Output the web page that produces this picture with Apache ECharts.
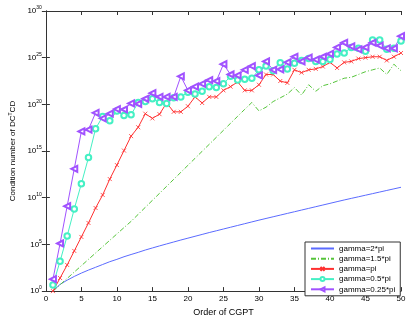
<!DOCTYPE html>
<html>
<head>
<meta charset="utf-8">
<script src="https://cdn.jsdelivr.net/npm/echarts@6/dist/echarts.min.js"></script>
<style>
html, body { margin: 0; padding: 0; background: #fff; }
#main { width: 409px; height: 322px; }
</style>
</head>
<body>
<div id="main"></div>
<script>
var orders = [1, 2, 3, 4, 5, 6, 7, 8, 9, 10, 11, 12, 13, 14, 15, 16, 17, 18, 19, 20,
    21, 22, 23, 24, 25, 26, 27, 28, 29, 30, 31, 32, 33, 34, 35, 36, 37, 38, 39, 40,
    41, 42, 43, 44, 45, 46, 47, 48, 49, 50];

// exponents (log10 of the condition number)
var gamma2pi = [0, 0.72, 1.17, 1.57, 1.93, 2.25, 2.55, 2.85, 3.15, 3.4,
    3.68, 3.92, 4.15, 4.4, 4.62, 4.84, 5.05, 5.26, 5.47, 5.67,
    5.87, 6.07, 6.27, 6.46, 6.65, 6.84, 7.03, 7.22, 7.41, 7.6,
    7.78, 7.96, 8.14, 8.32, 8.5, 8.68, 8.86, 9.04, 9.22, 9.4,
    9.58, 9.76, 9.93, 10.1, 10.27, 10.44, 10.61, 10.78, 10.95, 11.12];
var gamma15pi = [0, 0.68, 1.36, 2.04, 2.72, 3.4, 4.08, 4.76, 5.44, 6.12,
    6.8, 7.47, 8.22, 8.97, 9.72, 10.47, 11.22, 11.97, 12.72, 13.47,
    14.22, 14.97, 15.72, 16.47, 17.22, 17.97, 18.72, 19.47, 20.2, 19.3,
    19.7, 20.3, 20.7, 21.1, 21.8, 21.0, 22.1, 21.4, 22.0, 22.2,
    22.5, 22.8, 22.9, 23.2, 23.5, 23.7, 23.9, 23.2, 24.3, 23.6];
var gammaPi = [0, 1.4, 2.8, 4.3, 5.8, 7.3, 8.9, 10.3, 12.0, 13.5,
    15.05, 16.6, 17.55, 19.0, 18.5, 18.95, 20.15, 19.2, 19.2, 19.8,
    20.8, 20.15, 20.8, 20.8, 21.5, 21.9, 22.4, 21.5, 21.5, 22.1,
    23.2, 23.2, 22.5, 22.3, 23.7, 23.4, 23.7, 23.8, 24.05, 24.5,
    23.9, 24.5, 24.6, 24.9, 25.0, 25.1, 25.1, 24.7, 25.1, 25.5];
var gamma05pi = [0.66, 3.2, 5.9, 8.8, 11.5, 14.3, 17.4, 18.7, 18.25, 19.3,
    18.8, 18.9, 20.2, 20.3, 20.6, 20.2, 20.1, 20.7, 20.8, 21.3,
    21.1, 21.4, 21.9, 21.8, 22.2, 23.0, 22.6, 22.7, 22.8, 23.7,
    24.1, 23.6, 24.45, 23.8, 24.4, 24.7, 24.9, 24.6, 24.6, 24.8,
    25.4, 25.5, 26.1, 26.0, 25.7, 26.9, 26.9, 25.9, 26.0, 26.8];
var gamma025pi = [1.28, 5.1, 9.1, 13.1, 17.1, 17.3, 19.1, 18.5, 19.0, 19.5,
    19.45, 20.1, 20.05, 20.6, 21.2, 20.8, 20.8, 20.8, 23.0, 21.5,
    21.9, 22.2, 22.6, 22.5, 24.3, 23.2, 23.1, 23.7, 24.1, 23.1,
    24.6, 23.7, 23.75, 24.5, 25.1, 24.6, 25.0, 24.8, 25.1, 25.4,
    26.1, 26.6, 26.2, 25.9, 26.1, 26.6, 26.3, 26.0, 26.0, 27.3];

var seriesNames = ['gamma=2*pi', 'gamma=1.5*pi', 'gamma=pi', 'gamma=0.5*pi', 'gamma=0.25*pi'];

function toPoints(exps) {
    var pts = [];
    for (var i = 0; i < orders.length; i++) {
        pts.push([orders[i], Math.pow(10, exps[i])]);
    }
    return pts;
}

var font = 'Liberation Sans, Arial, sans-serif';
var axisColor = '#333';

function yLabel(v) {
    var e = Math.round(Math.log(v) / Math.LN10);
    return '10{sup|' + e + '}';
}

var chart = echarts.init(document.getElementById('main'));
chart.setOption({
    animation: false,
    backgroundColor: '#fff',
    grid: { left: 35, right: 8, top: 11, bottom: 24 },
    legend: {
        orient: 'vertical',
        left: 305,
        top: 242,
        data: [
            { name: seriesNames[0], itemStyle: { opacity: 0 } },
            { name: seriesNames[1], itemStyle: { opacity: 0 } },
            seriesNames[2], seriesNames[3], seriesNames[4]
        ],
        itemWidth: 23,
        itemHeight: 5,
        itemGap: 1.2,
        padding: [2, 5, 2, 5],
        backgroundColor: '#fff',
        borderColor: axisColor,
        borderWidth: 1,
        borderRadius: 0,
        textStyle: { fontSize: 8, lineHeight: 9, color: '#000', fontFamily: font }
    },
    xAxis: [{
        type: 'value', min: 0, max: 50, interval: 5,
        name: 'Order of CGPT', nameLocation: 'middle', nameGap: 16,
        nameTextStyle: { fontSize: 9, color: '#000', fontFamily: font },
        axisLine: { lineStyle: { color: axisColor } },
        axisTick: { inside: true, length: 4, lineStyle: { color: axisColor } },
        axisLabel: { fontSize: 8, color: '#000', fontFamily: font, margin: 4 },
        splitLine: { show: false }
    }, {
        type: 'value', min: 0, max: 50, interval: 5, position: 'top',
        axisLine: { lineStyle: { color: axisColor } },
        axisTick: { inside: true, length: 4, lineStyle: { color: axisColor } },
        axisLabel: { show: false },
        splitLine: { show: false }
    }],
    yAxis: [{
        type: 'log', logBase: 10, min: 1, max: 1e30, interval: 5,
        name: 'Condition number of DC{sup|T}CD', nameLocation: 'middle', nameGap: 19,
        nameTextStyle: {
            fontSize: 8, color: '#000', fontFamily: font,
            rich: { sup: { fontSize: 5, verticalAlign: 'top', padding: [0, 0, 4, 0], fontFamily: font } }
        },
        axisLine: { lineStyle: { color: axisColor } },
        axisTick: { inside: true, length: 4, lineStyle: { color: axisColor } },
        axisLabel: {
            fontSize: 8, color: '#000', fontFamily: font, margin: 4,
            formatter: yLabel,
            rich: { sup: { fontSize: 5, padding: [0, 0, 6, 0], fontFamily: font, color: '#000' } }
        },
        splitLine: { show: false }
    }, {
        type: 'log', logBase: 10, min: 1, max: 1e30, interval: 5, position: 'right',
        axisLine: { lineStyle: { color: axisColor } },
        axisTick: { inside: true, length: 4, lineStyle: { color: axisColor } },
        axisLabel: { show: false },
        splitLine: { show: false }
    }],
    series: [{
        name: seriesNames[0], type: 'line', data: toPoints(gamma2pi),
        showSymbol: false, symbol: 'circle', symbolSize: 0, color: '#5b6bff',
        lineStyle: { width: 1 }
    }, {
        name: seriesNames[1], type: 'line', data: toPoints(gamma15pi),
        showSymbol: false, symbol: 'circle', symbolSize: 0, color: '#55c43a',
        lineStyle: { width: 1, type: [5, 2, 1, 2] }
    }, {
        name: seriesNames[2], type: 'line', data: toPoints(gammaPi),
        symbol: 'path://M0,0L10,10M10,0L0,10', symbolSize: 4, color: '#ff3030',
        itemStyle: { borderColor: '#ff3030', borderWidth: 0.8 },
        lineStyle: { width: 1 }
    }, {
        name: seriesNames[3], type: 'line', data: toPoints(gamma05pi),
        symbol: 'emptyCircle', symbolSize: 5.5, color: '#45f0c4',
        itemStyle: { borderWidth: 0.8 },
        lineStyle: { width: 1 }
    }, {
        name: seriesNames[4], type: 'line', data: toPoints(gamma025pi),
        symbol: 'emptyTriangle', symbolSize: 6, symbolRotate: 90, color: '#a152ff',
        itemStyle: { borderWidth: 0.8 },
        lineStyle: { width: 1 }
    }]
});
</script>
</body>
</html>
